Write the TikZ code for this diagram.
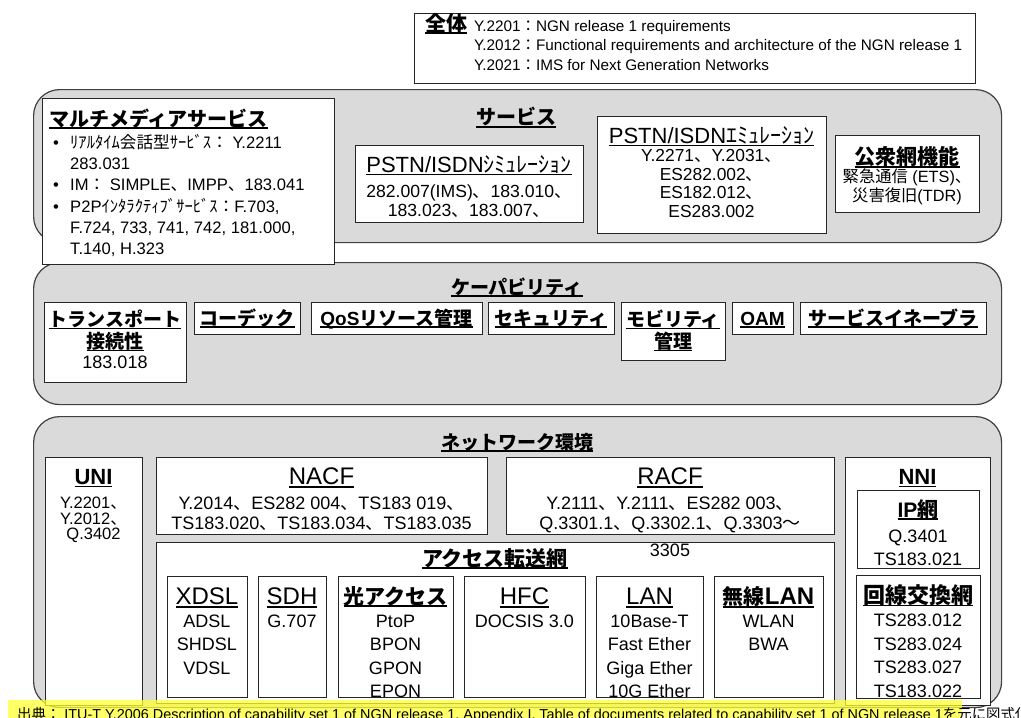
\documentclass[tikz,border=0pt]{standalone}
\usepackage{fontspec}
\setmainfont{Liberation Sans}
\newfontfamily\jpf{Noto Sans CJK JP}
\newcommand\jp[1]{{\jpf #1}}
\newcommand\fs[2]{\fontsize{#1}{#2}\selectfont}
\newsavebox\ulbox
\newcommand\ul[1]{\sbox\ulbox{#1}\rlap{\usebox\ulbox}\rule[-.15em]{\wd\ulbox}{.08em}}
\definecolor{regiongray}{HTML}{DADADA}
\definecolor{marker}{HTML}{FFFF33}
\tikzset{
  region/.style={draw=black!75, fill=regiongray, line width=1.2pt, rounded corners=26pt, anchor=north west, inner sep=0pt},
  box/.style={draw=black!85, fill=white, line width=1pt, anchor=north west, inner sep=0pt},
  lbl/.style={inner sep=0pt, align=center}
}
\begin{document}
\begin{tikzpicture}[x=1pt,y=-1pt]
\useasboundingbox (0,0) rectangle (1021,718);
\node[region, minimum width=968pt, minimum height=153pt] (svc) at (33,89) {};
\node[region, minimum width=968pt, minimum height=142pt] (cap) at (33,262) {};
\node[region, minimum width=968pt, minimum height=291pt] (net) at (33,416) {};

\node[box, minimum width=561pt, minimum height=70pt] (all) at (414,13) {};
\node[lbl, anchor=base, font=\fs{21}{24}\bfseries] (allT) at (446,31) {\ul{\jp{全体}}};
\node[lbl, anchor=north west, align=left, font=\fs{15.3}{19.5}] (allL) at (474,20) {Y.2201\jp{：}NGN release 1 requirements\\Y.2012\jp{：}Functional requirements and architecture of the NGN release 1\\Y.2021\jp{：}IMS for Next Generation Networks};

\node[lbl, anchor=base, font=\fs{20}{24}\bfseries] (svcT) at (516,124.5) {\ul{\jp{サービス}}};
\node[box, minimum width=292pt, minimum height=166pt] (mm) at (42,98) {};
\node[lbl, anchor=base west, font=\fs{20}{24}\bfseries] (mmT) at (49,126) {\ul{\jp{マルチメディアサービス}}};
\node[lbl, anchor=north west, align=left, font=\fs{16.6}{21.3}] (mmL) at (53,134) {\makebox[17pt][l]{\textbullet}\jp{ﾘｱﾙﾀｲﾑ会話型ｻｰﾋﾞｽ：} Y.2211\\\hspace*{17pt}283.031\\\makebox[17pt][l]{\textbullet}IM\jp{：} SIMPLE\jp{、}IMPP\jp{、}183.041\\\makebox[17pt][l]{\textbullet}P2P\jp{ｲﾝﾀﾗｸﾃｨﾌﾞｻｰﾋﾞｽ：}F.703,\\\hspace*{17pt}F.724, 733, 741, 742, 181.000,\\\hspace*{17pt}T.140, H.323};

\node[box, minimum width=228pt, minimum height=77pt] (sim) at (355,145) {};
\node[lbl, anchor=base, font=\fs{22}{26}] (simT) at (469,172) {\ul{PSTN/ISDN\jp{ｼﾐｭﾚｰｼｮﾝ}}};
\node[lbl, anchor=north, font=\fs{17.6}{19}] (simL) at (469,184.5) {282.007(IMS)\jp{、}183.010\jp{、}\\183.023\jp{、}183.007\jp{、}};

\node[box, minimum width=229pt, minimum height=117pt] (emu) at (597,116) {};
\node[lbl, anchor=base, font=\fs{22}{26}] (emuT) at (711.5,143) {\ul{PSTN/ISDN\jp{ｴﾐｭﾚｰｼｮﾝ}}};
\node[lbl, anchor=north, font=\fs{17.4}{18.4}] (emuL) at (711.5,149.5) {Y.2271\jp{、}Y.2031\jp{、}\\ES282.002\jp{、}\\ES182.012\jp{、}\\ES283.002};

\node[box, minimum width=144pt, minimum height=77pt] (pub) at (835,135) {};
\node[lbl, anchor=base, font=\fs{21}{25}\bfseries] (pubT) at (907,164.5) {\ul{\jp{公衆網機能}}};
\node[lbl, anchor=north, font=\fs{16.3}{18.5}] (pubL) at (907,169) {\jp{緊急通信} (ETS)\jp{、}\\\jp{災害復旧}(TDR)};

\node[lbl, anchor=base, font=\fs{19}{23}\bfseries] (capT) at (517,294) {\ul{\jp{ケーパビリティ}}};
\node[box, minimum width=142pt, minimum height=80pt] (trp) at (44,302) {};
\node[box, minimum width=106pt, minimum height=32pt] (codec) at (194,302) {};
\node[box, minimum width=171pt, minimum height=32pt] (qos) at (311,302) {};
\node[box, minimum width=126pt, minimum height=32pt] (sec) at (488,302) {};
\node[box, minimum width=104pt, minimum height=58pt] (mob) at (621,302) {};
\node[box, minimum width=61pt, minimum height=32pt] (oam) at (732,302) {};
\node[box, minimum width=186pt, minimum height=32pt] (ena) at (800,302) {};
\node[lbl, anchor=north, font=\fs{19}{22}\bfseries] (trpT) at (115,309.5) {\ul{\jp{トランスポート}}\\\ul{\jp{接続性}}};
\node[lbl, anchor=base, font=\fs{18}{22}] (trpN) at (115,368) {183.018};
\node[lbl, anchor=base, font=\fs{19}{22}\bfseries] (codecT) at (247,325) {\ul{\jp{コーデック}}};
\node[lbl, anchor=base, font=\fs{19}{22}\bfseries] (qosT) at (396.5,325) {\ul{QoS\jp{リソース管理}}};
\node[lbl, anchor=base, font=\fs{19}{22}\bfseries] (secT) at (551,325) {\ul{\jp{セキュリティ}}};
\node[lbl, anchor=north, font=\fs{19}{22}\bfseries] (mobT) at (673,309.5) {\ul{\jp{モビリティ}}\\\ul{\jp{管理}}};
\node[lbl, anchor=base, font=\fs{19}{22}\bfseries] (oamT) at (762.5,325) {\ul{OAM}};
\node[lbl, anchor=base, font=\fs{19}{22}\bfseries] (enaT) at (893,325) {\ul{\jp{サービスイネーブラ}}};

\node[lbl, anchor=base, font=\fs{19}{23}\bfseries] (netT) at (517,449) {\ul{\jp{ネットワーク環境}}};
\node[box, minimum width=97pt, minimum height=248pt] (uni) at (45,457) {};
\node[lbl, anchor=base, font=\fs{22}{26}\bfseries] (uniT) at (93.5,484) {\ul{UNI}};
\node[lbl, anchor=north, font=\fs{16.5}{15.5}] (uniL) at (93.5,497) {Y.2201\jp{、}\\Y.2012\jp{、}\\Q.3402};
\node[box, minimum width=331pt, minimum height=77pt] (nacf) at (156,457) {};
\node[lbl, anchor=base, font=\fs{24}{28}] (nacfT) at (321.5,484.5) {\ul{NACF}};
\node[lbl, anchor=north, font=\fs{18}{20}] (nacfL) at (321.5,497) {Y.2014\jp{、}ES282 004\jp{、}TS183 019\jp{、}\\TS183.020\jp{、}TS183.034\jp{、}TS183.035};
\node[box, minimum width=328pt, minimum height=77pt] (racf) at (506,457) {};
\node[lbl, anchor=base, font=\fs{24}{28}] (racfT) at (670,484.5) {\ul{RACF}};

\node[box, minimum width=678pt, minimum height=161pt] (acc) at (156,542) {};
\node[lbl, anchor=north, font=\fs{18}{20}] (racfL) at (670,497) {Y.2111\jp{、}Y.2111\jp{、}ES282 003\jp{、}\\Q.3301.1\jp{、}Q.3302.1\jp{、}Q.3303\jp{～}\\[6.5pt]3305};
\node[lbl, anchor=base, font=\fs{21}{25}\bfseries] (accT) at (495,566) {\ul{\jp{アクセス転送網}}};
\node[box, minimum width=80pt, minimum height=121pt] (xdsl) at (167,576) {};
\node[box, minimum width=68pt, minimum height=121pt] (sdh) at (258,576) {};
\node[box, minimum width=115pt, minimum height=121pt] (opt) at (338,576) {};
\node[box, minimum width=121pt, minimum height=121pt] (hfc) at (464,576) {};
\node[box, minimum width=107pt, minimum height=121pt] (lan) at (596,576) {};
\node[box, minimum width=109pt, minimum height=121pt] (wlan) at (714,576) {};
\node[lbl, anchor=base, font=\fs{24}{28}] (xdslT) at (207,604) {\ul{XDSL}};
\node[lbl, anchor=base, font=\fs{24}{28}] (sdhT) at (292,604) {\ul{SDH}};
\node[lbl, anchor=base, font=\fs{21}{28}\bfseries] (optT) at (395.5,604) {\ul{\jp{光アクセス}}};
\node[lbl, anchor=base, font=\fs{24}{28}] (hfcT) at (524.5,604) {\ul{HFC}};
\node[lbl, anchor=base, font=\fs{24}{28}] (lanT) at (649.5,604) {\ul{LAN}};
\node[lbl, anchor=base, font=\fs{24}{28}\bfseries] (wlanT) at (768.5,604) {\ul{\jp{\fs{21}{28}無線}LAN}};
\node[lbl, anchor=north, font=\fs{18}{23.5}] (xdslL) at (207,614.6) {ADSL\\SHDSL\\VDSL};
\node[lbl, anchor=north, font=\fs{18}{23.5}] (sdhL) at (292,614.6) {G.707};
\node[lbl, anchor=north, font=\fs{18}{23.5}] (optL) at (395.5,614.6) {PtoP\\BPON\\GPON\\EPON};
\node[lbl, anchor=north, font=\fs{18}{23.5}] (hfcL) at (524.5,614.6) {DOCSIS 3.0};
\node[lbl, anchor=north, font=\fs{18}{23.5}] (lanL) at (649.5,614.6) {10Base-T\\Fast Ether\\Giga Ether\\10G Ether};
\node[lbl, anchor=north, font=\fs{18}{23.5}] (wlanL) at (768.5,614.6) {WLAN\\BWA};

\node[box, minimum width=145pt, minimum height=248pt] (nni) at (845,457) {};
\node[lbl, anchor=base, font=\fs{22}{26}\bfseries] (nniT) at (917.5,484) {\ul{NNI}};
\node[box, minimum width=122pt, minimum height=78pt] (ip) at (857,490) {};
\node[lbl, anchor=base, font=\fs{21}{25}\bfseries] (ipT) at (918,517) {\ul{IP\jp{網}}};
\node[lbl, anchor=north, font=\fs{18}{23.5}] (ipL) at (918,529.6) {Q.3401\\TS183.021};
\node[box, minimum width=124pt, minimum height=123pt] (cs) at (856,575) {};
\node[lbl, anchor=base, font=\fs{22}{26}\bfseries] (csT) at (918,603) {\ul{\jp{回線交換網}}};
\node[lbl, anchor=north, font=\fs{18}{23.5}] (csL) at (918,614.1) {TS283.012\\TS283.024\\TS283.027\\TS183.022};

\fill[marker, fill opacity=.75] (8,700) rectangle (962,718);
\node[lbl, anchor=base west, font=\fs{14.4}{16}] (src) at (17,719.5) {\jp{出典：} ITU-T Y.2006 Description of capability set 1 of NGN release 1, Appendix I, Table of documents related to capability set 1 of NGN release 1\jp{を元に図式化}};
\end{tikzpicture}
\end{document}
